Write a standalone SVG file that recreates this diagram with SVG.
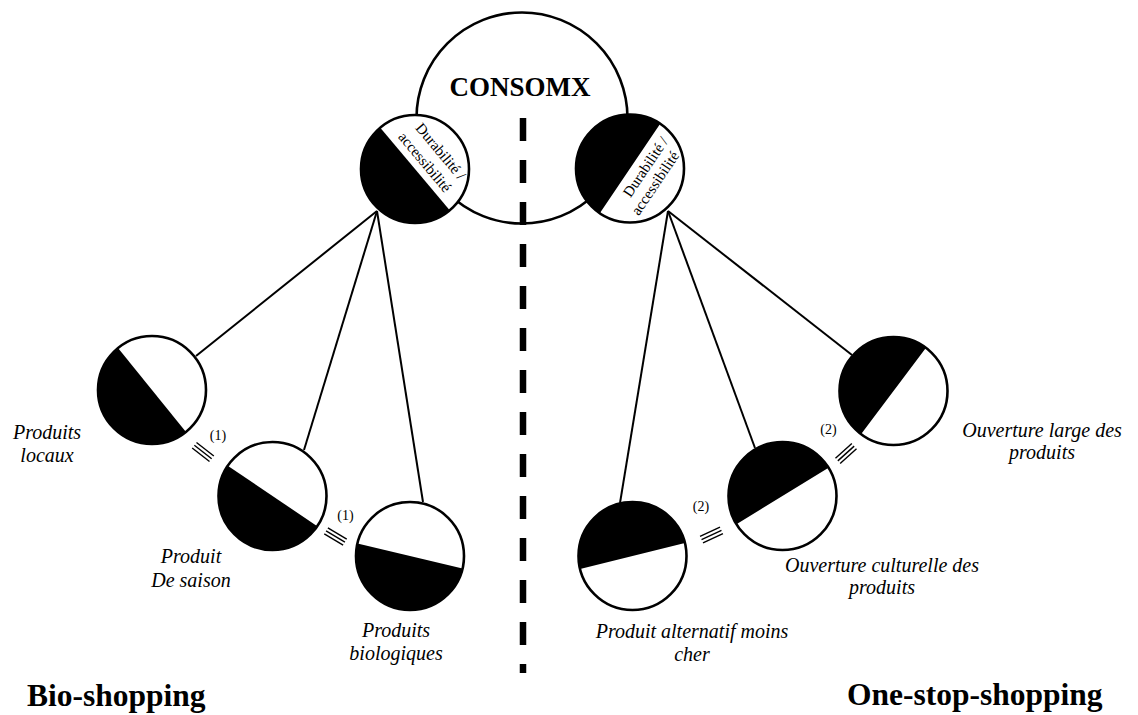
<svg xmlns="http://www.w3.org/2000/svg" xmlns:xlink="http://www.w3.org/1999/xlink" width="1138" height="715" viewBox="0 0 1138 715">
<style>
.ring{fill:#fff;stroke:none}
.half{fill:#000}
.edge{fill:none;stroke:#000;stroke-width:2.6}
.link{stroke:#000;stroke-width:2;fill:none}
.eq line{stroke:#000;stroke-width:1.4}
.dash{stroke:#000;stroke-width:6.5;stroke-dasharray:23 19;fill:none}
text{font-family:"Liberation Serif","Times New Roman",serif;fill:#000}
.title{font-weight:bold;font-size:27px;text-anchor:middle}
.big{font-weight:bold;font-size:31.5px}
.lbl{font-style:italic;font-size:20px;text-anchor:middle}
.dur{font-size:15px;text-anchor:middle}
.num{font-size:14px;text-anchor:middle}
</style>
<defs>
<g id="eqmark" class="eq">
<line x1="-11" y1="-3.5" x2="11" y2="-3.5"/>
<line x1="-11" y1="0" x2="11" y2="0"/>
<line x1="-11" y1="3.5" x2="11" y2="3.5"/>
</g>
<path id="lowhalf" d="M -54 0 A 54 54 0 0 0 54 0 Z"/>
<path id="uphalf" d="M -54 0 A 54 54 0 0 1 54 0 Z"/>
</defs>
<rect width="1138" height="715" fill="#fff"/>

<g id="consomx">
<circle cx="522" cy="118" r="105.5" class="ring"/>
<circle cx="522" cy="118" r="105.5" class="edge"/>
<text x="520" y="96" class="title">CONSOMX</text>
</g>

<g id="divider">
<line x1="523" y1="118" x2="523" y2="673" class="dash"/>
</g>

<g id="connectors">
<line x1="377" y1="211" x2="196" y2="356" class="link"/>
<line x1="377" y1="211" x2="304" y2="450" class="link"/>
<line x1="377" y1="211" x2="423" y2="502" class="link"/>
<line x1="668" y1="211" x2="852" y2="355" class="link"/>
<line x1="668" y1="211" x2="755" y2="448" class="link"/>
<line x1="668" y1="211" x2="620" y2="503" class="link"/>
<use xlink:href="#eqmark" transform="translate(203,452) rotate(38)"/>
<use xlink:href="#eqmark" transform="translate(335.5,536.5) rotate(31)"/>
<use xlink:href="#eqmark" transform="translate(846,453.5) rotate(-42)"/>
<use xlink:href="#eqmark" transform="translate(711.5,535) rotate(-25)"/>
<text x="218" y="440" class="num">(1)</text>
<text x="345.5" y="520" class="num">(1)</text>
<text x="828.5" y="434" class="num">(2)</text>
<text x="701" y="511" class="num">(2)</text>
</g>

<g id="hub-left" transform="translate(415,169)">
<circle r="54" class="ring"/>
<use xlink:href="#lowhalf" class="half" transform="rotate(50)"/>
<circle r="54" class="edge"/>
<g transform="rotate(50)">
<text x="3" y="-26" class="dur">Durabilité /</text>
<text x="1" y="-7" class="dur">accessibilité</text>
</g>
</g>

<g id="hub-right" transform="translate(630,168.5)">
<circle r="54" class="ring"/>
<use xlink:href="#uphalf" class="half" transform="rotate(-56)"/>
<circle r="54" class="edge"/>
<g transform="rotate(-56)">
<text x="10" y="17" class="dur">Durabilité /</text>
<text x="2" y="34" class="dur">accessibilité</text>
</g>
</g>

<g id="produits-locaux">
<g transform="translate(152,390)">
<circle r="54" class="ring"/>
<use xlink:href="#lowhalf" class="half" transform="rotate(51)"/>
<circle r="54" class="edge"/>
</g>
<text x="47" y="439" class="lbl">Produits</text>
<text x="47" y="462" class="lbl">locaux</text>
</g>

<g id="produit-de-saison">
<g transform="translate(272.5,496)">
<circle r="54" class="ring"/>
<use xlink:href="#lowhalf" class="half" transform="rotate(34)"/>
<circle r="54" class="edge"/>
</g>
<text x="191" y="563" class="lbl">Produit</text>
<text x="191" y="587" class="lbl">De saison</text>
</g>

<g id="produits-biologiques">
<g transform="translate(410,556)">
<circle r="54" class="ring"/>
<use xlink:href="#lowhalf" class="half" transform="rotate(13.5)"/>
<circle r="54" class="edge"/>
</g>
<text x="396" y="637" class="lbl">Produits</text>
<text x="396" y="660" class="lbl">biologiques</text>
</g>

<g id="ouverture-large">
<g transform="translate(893.5,391)">
<circle r="54" class="ring"/>
<use xlink:href="#uphalf" class="half" transform="rotate(-53)"/>
<circle r="54" class="edge"/>
</g>
<text x="1042" y="437" class="lbl">Ouverture large des</text>
<text x="1042" y="459" class="lbl">produits</text>
</g>

<g id="ouverture-culturelle">
<g transform="translate(782.5,496)">
<circle r="54" class="ring"/>
<use xlink:href="#uphalf" class="half" transform="rotate(-31.5)"/>
<circle r="54" class="edge"/>
</g>
<text x="882" y="572" class="lbl">Ouverture culturelle des</text>
<text x="882" y="594" class="lbl">produits</text>
</g>

<g id="produit-alternatif">
<g transform="translate(632.5,556)">
<circle r="54" class="ring"/>
<use xlink:href="#uphalf" class="half" transform="rotate(-14)"/>
<circle r="54" class="edge"/>
</g>
<text x="692" y="638" class="lbl">Produit alternatif moins</text>
<text x="692" y="661" class="lbl">cher</text>
</g>

<g id="titles">
<text x="27" y="706" class="big">Bio-shopping</text>
<text x="847" y="705" class="big">One-stop-shopping</text>
</g>
</svg>
